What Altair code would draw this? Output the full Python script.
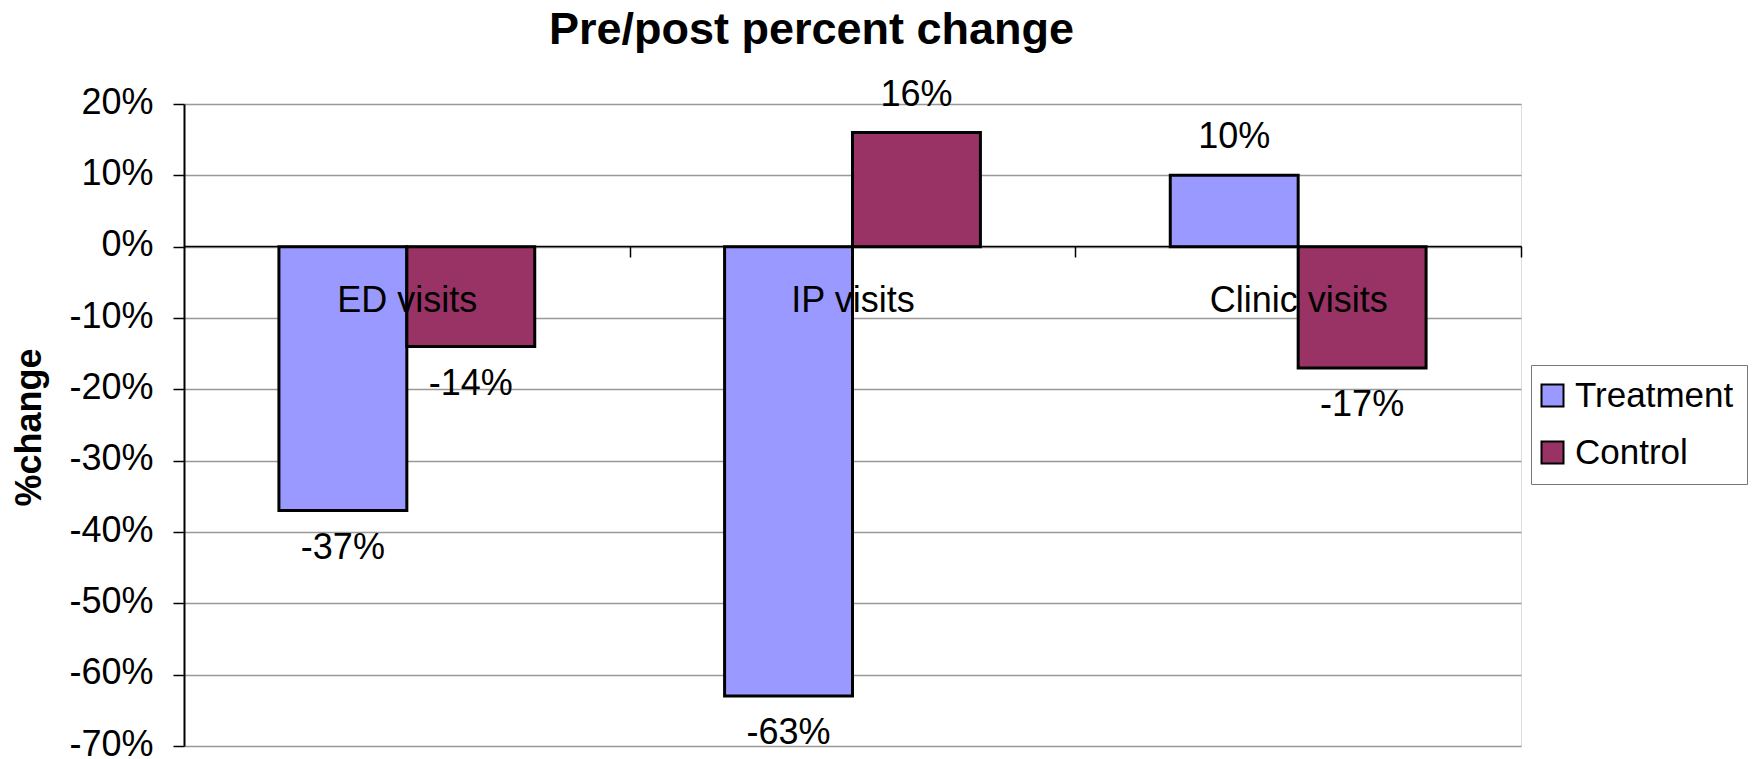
import altair as alt
import pandas as pd

# Pre/post percent change by visit type
categories = ["ED visits", "IP visits", "Clinic visits"]
series = ["Treatment", "Control"]
treatment = [-0.37, -0.63, 0.10]
control = [-0.14, 0.16, -0.17]
colors = ["#9999FF", "#993366"]

rows = []
for cat, t, c in zip(categories, treatment, control):
    rows.append({"category": cat, "series": "Treatment", "value": t})
    rows.append({"category": cat, "series": "Control", "value": c})
df = pd.DataFrame(rows)
df["label"] = [f"{round(v * 100)}%" for v in df["value"]]

FONT = "Liberation Sans"
PLOT_W = 1337
STEP = PLOT_W / len(categories)

x_enc = alt.X(
    "category:N",
    sort=categories,
    scale=alt.Scale(paddingInner=0.426, paddingOuter=0.213),
    axis=alt.Axis(
        title=None,
        orient="bottom",
        offset=-500,
        zindex=1,
        domainColor="black",
        domainWidth=1.5,
        tickColor="black",
        tickWidth=1.5,
        tickSize=11,
        tickOffset=STEP / 2,
        labelOffset=-STEP / 2,
        labelFont=FONT,
        labelFontSize=36,
        labelColor="black",
        labelPadding=26,
        labelAngle=0,
        grid=False,
    ),
)
xoff = alt.XOffset("series:N", sort=series, scale=alt.Scale(paddingInner=0, paddingOuter=0))
y_scale = alt.Scale(domain=[-0.7, 0.2], nice=False, zero=False)

bars = alt.Chart(df).mark_bar(stroke="black", strokeWidth=3).encode(
    x=x_enc,
    xOffset=xoff,
    y=alt.Y(
        "value:Q",
        scale=y_scale,
        axis=alt.Axis(
            title="%change",
            values=[0.2, 0.1, 0.0, -0.1, -0.2, -0.3, -0.4, -0.5, -0.6, -0.7],
            labelExpr="round(datum.value * 100) + '%'",
            labelFont=FONT,
            labelFontSize=36,
            labelColor="black",
            labelPadding=20,
            labelOffset=-2,
            tickSize=11,
            tickColor="black",
            tickWidth=1.5,
            domainColor="black",
            domainWidth=2,
            grid=True,
            gridColor="#999999",
            gridWidth=1.5,
            titleFont=FONT,
            titleFontSize=36,
            titleFontWeight="bold",
            titleColor="black",
            titleAngle=-90,
            titleAlign="center",
            titleBaseline="alphabetic",
            titleX=-144,
            titleY=323,
        ),
    ),
    y2=alt.datum(0),
    color=alt.Color(
        "series:N",
        sort=series,
        scale=alt.Scale(domain=series, range=colors),
        legend=alt.Legend(
            title=None,
            orient="none",
            legendX=1347,
            legendY=261,
            direction="vertical",
            fillColor="white",
            strokeColor="#777777",
            padding=13,
            symbolType="square",
            symbolSize=484,
            symbolOffset=-9,
            symbolStrokeColor="black",
            symbolStrokeWidth=2,
            labelFont=FONT,
            labelFontSize=35,
            labelColor="black",
            labelOffset=5,
            rowPadding=21,
        ),
    ),
)

text_base = alt.Chart(df).encode(
    x=alt.X("category:N", sort=categories),
    xOffset=alt.XOffset("series:N", sort=series),
    y=alt.Y("value:Q", scale=y_scale),
    text="label:N",
)
labels_pos = text_base.transform_filter("datum.value >= 0").mark_text(
    font=FONT, fontSize=36, color="black", baseline="middle", dy=-38
)
labels_neg = text_base.transform_filter("datum.value < 0").mark_text(
    font=FONT, fontSize=36, color="black", baseline="middle", dy=37
)

chart = (
    alt.layer(bars, labels_pos, labels_neg)
    .properties(
        width=PLOT_W,
        height=642,
        autosize=alt.AutoSizeParams(type="none"),
        padding={"left": 184, "top": 104, "right": 238, "bottom": 13},
        title=alt.TitleParams(
            "Pre/post percent change",
            font=FONT,
            fontSize=45,
            fontWeight="bold",
            color="black",
            anchor="middle",
            dx=-41,
            offset=24,
        ),
    )
    .configure_view(stroke="#888888", strokeWidth=3)
    .configure(background="white")
)

chart.save("out.html", embed_options={"renderer": "svg", "actions": False})
